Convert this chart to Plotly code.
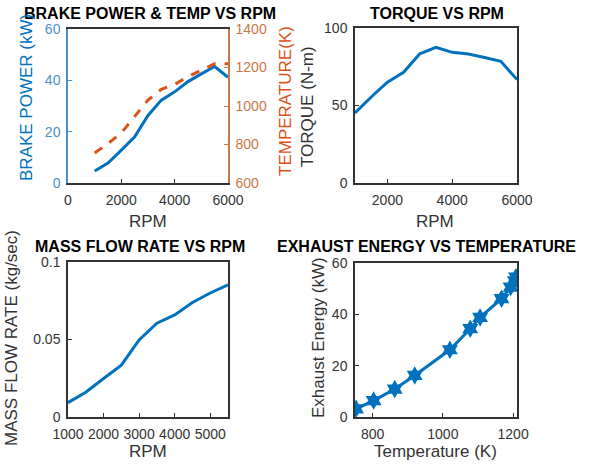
import plotly.graph_objects as go

# ---- data ----
rpm = [1000, 1500, 2000, 2500, 3000, 3500, 4000, 4500, 5000, 5500, 6000]
brake_power = [4.7, 7.8, 12.8, 18.0, 26.3, 32.3, 35.5, 39.5, 42.5, 45.4, 41.2]
temperature = [756, 805, 860, 944, 1031, 1087, 1112, 1153, 1188, 1219, 1219]

torque_rpm = [1000, 1500, 2000, 2500, 3000, 3500, 4000, 4500, 5000, 5500, 6000]
torque = [45.2, 55.5, 65.0, 71.4, 83.4, 87.5, 84.3, 83.2, 81.0, 78.5, 66.7]

flow_rpm = [1000, 1500, 2000, 2500, 3000, 3500, 4000, 4500, 5000, 5500]
mass_flow = [0.0093, 0.016, 0.0248, 0.0335, 0.0497, 0.0605, 0.0659, 0.0739, 0.080, 0.0853]

exh_temp = [753, 803, 863, 920, 1020, 1078, 1106, 1167, 1193, 1205, 1208]
exh_energy = [3.2, 6.4, 10.9, 16.2, 26.2, 34.4, 38.8, 46.1, 50.6, 53.0, 54.5]

W, H = 602, 469
BLUE = '#0072BD'
ORANGE = '#D95319'
DARK = '#333333'
FONT = 'Liberation Sans, Arial, sans-serif'


def px_x(a, b):
    return [a / W, b / W]


def px_y(top, bottom):
    return [1 - bottom / H, 1 - top / H]


def axis(domain, rng, tickvals, anchor, color=DARK, **kw):
    d = dict(
        domain=domain, range=rng, tickvals=tickvals, anchor=anchor,
        showline=True, linecolor=color, linewidth=1.5, mirror=True,
        ticks='inside', ticklen=4, tickcolor=color, showgrid=False, zeroline=False,
        automargin=False, ticklabelstandoff=3,
        tickfont=dict(size=14, color=color, family=FONT),
    )
    d.update(kw)
    return d


fig = go.Figure()

fig.add_trace(go.Scatter(x=rpm, y=brake_power, mode='lines', line=dict(color=BLUE, width=3),
                         xaxis='x', yaxis='y'))
fig.add_trace(go.Scatter(x=rpm, y=temperature, mode='lines', line=dict(color=ORANGE, width=3, dash='dash'),
                         xaxis='x', yaxis='y5'))
fig.add_trace(go.Scatter(x=torque_rpm, y=torque, mode='lines', line=dict(color=BLUE, width=3),
                         xaxis='x2', yaxis='y2'))
fig.add_trace(go.Scatter(x=flow_rpm, y=mass_flow, mode='lines', line=dict(color=BLUE, width=3),
                         xaxis='x3', yaxis='y3'))
fig.add_trace(go.Scatter(x=exh_temp, y=exh_energy, mode='lines+markers', line=dict(color=BLUE, width=3),
                         marker=dict(symbol='hexagram', size=14, color=BLUE),
                         xaxis='x4', yaxis='y4'))

fig.update_layout(
    width=W, height=H,
    margin=dict(l=0, r=0, t=0, b=0),
    paper_bgcolor='white', plot_bgcolor='white',
    showlegend=False,
    font=dict(family=FONT, color=DARK),
    xaxis=axis(px_x(68, 228), [0, 6000], [0, 2000, 4000, 6000], 'y'),
    yaxis=axis(px_y(29, 183), [0, 60], [0, 20, 40, 60], 'x', color='#4A90C8', mirror=False),
    yaxis5=axis(px_y(29, 183), [600, 1400], [600, 800, 1000, 1200, 1400], 'x',
                color='#C87848', mirror=False, overlaying='y', side='right'),
    xaxis2=axis(px_x(355, 517), [1000, 6000], [2000, 4000, 6000], 'y2'),
    yaxis2=axis(px_y(28, 183), [0, 100], [0, 50, 100], 'x2'),
    xaxis3=axis(px_x(68, 228), [1000, 5500], [1000, 2000, 3000, 4000, 5000], 'y3'),
    yaxis3=axis(px_y(262, 417), [0, 0.1], [0, 0.05, 0.1], 'x3', ticktext=['0', '0.05', '0.1']),
    xaxis4=axis(px_x(355, 517), [750, 1211], [800, 1000, 1200], 'y4'),
    yaxis4=axis(px_y(263, 417), [0, 60], [0, 20, 40, 60], 'x4'),
)
fig.layout.yaxis3.tickmode = 'array'

labels = [
    # text, x px, y px, angle, colour, bold, size
    ('BRAKE POWER & TEMP VS RPM', 150, 13, 0, 'black', True, 16),
    ('TORQUE VS RPM', 437, 13, 0, 'black', True, 16),
    ('MASS FLOW RATE VS RPM', 140, 246, 0, 'black', True, 16),
    ('EXHAUST ENERGY VS TEMPERATURE', 426, 246, 0, 'black', True, 16),
    ('BRAKE POWER (kW)', 27, 98, -90, BLUE, False, 17),
    ('TEMPERATURE(K)', 285, 101, -90, ORANGE, False, 17),
    ('RPM', 148, 221, 0, DARK, False, 17),
    ('TORQUE (N-m)', 308, 107, -90, DARK, False, 17),
    ('RPM', 435, 221, 0, DARK, False, 17),
    ('MASS FLOW RATE (kg/sec)', 11, 338, -90, DARK, False, 17),
    ('RPM', 148, 451, 0, DARK, False, 17),
    ('Exhaust Energy (kW)', 318, 338, -90, DARK, False, 17),
    ('Temperature (K)', 435, 451, 0, DARK, False, 17),
]
for text, x, y, ang, col, bold, size in labels:
    fig.add_annotation(
        text=f'<b>{text}</b>' if bold else text,
        x=x / W, y=1 - y / H, xref='paper', yref='paper',
        xanchor='center', yanchor='middle', showarrow=False, textangle=ang,
        font=dict(size=size, color=col, family=FONT),
    )

# the page's default body margin would shift the figure by 8px
fig.write_html("out.html", config={'displayModeBar': False},
               post_script="document.body.style.margin = '0';")
